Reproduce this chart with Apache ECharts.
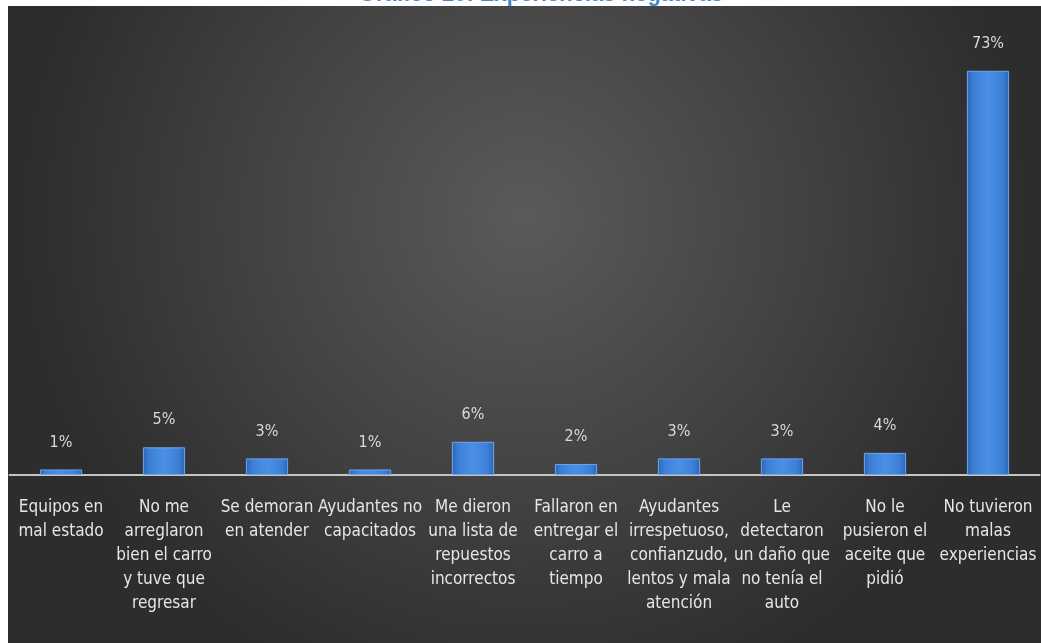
<!DOCTYPE html>
<html>
<head>
<meta charset="utf-8">
<script src="https://cdn.jsdelivr.net/npm/echarts@6/dist/echarts.min.js"></script>
<style>
  html, body { margin: 0; padding: 0; background: #ffffff; }
  #chart { width: 1041px; height: 643px; }
</style>
</head>
<body>
<div id="chart"></div>
<script>
// Categorías (con saltos de línea como en el gráfico original)
const categorias = [
  'Equipos en\nmal estado',
  'No me\narreglaron\nbien el carro\ny tuve que\nregresar',
  'Se demoran\nen atender',
  'Ayudantes no\ncapacitados',
  'Me dieron\nuna lista de\nrepuestos\nincorrectos',
  'Fallaron en\nentregar el\ncarro a\ntiempo',
  'Ayudantes\nirrespetuoso,\nconfianzudo,\nlentos y mala\natención',
  'Le\ndetectaron\nun daño que\nno tenía el\nauto',
  'No le\npusieron el\naceite que\npidió',
  'No tuvieron\nmalas\nexperiencias'
]
// Porcentajes
const valores = [1, 5, 3, 1, 6, 2, 3, 3, 4, 73]

const titulo = 'Gráfico 20: Experiencias negativas'
const fuente = '"Liberation Sans Narrow", "DejaVu Sans Condensed", sans-serif'

const chart = echarts.init(document.getElementById('chart'), null, { renderer: 'canvas' })

chart.setOption({
  backgroundColor: '#ffffff',
  animation: false,
  // título recortado por el panel oscuro (el texto va primero, el panel encima)
  graphic: [
    {
      type: 'text',
      z: 0,
      silent: true,
      style: {
        text: titulo,
        x: 541,
        y: -5,
        textAlign: 'center',
        textVerticalAlign: 'middle',
        fill: '#4a86c8',
        fontSize: 22,
        fontWeight: 'bold',
        fontFamily: 'Liberation Sans, Arial, sans-serif'
      }
    },
    {
      type: 'rect',
      z: 1,
      silent: true,
      shape: { x: 8, y: 6, width: 1033, height: 637 },
      style: {
        fill: {
          type: 'radial', x: 0.5, y: 0.33, r: 0.78,
          colorStops: [
            { offset: 0, color: '#5a5a5a' },
            { offset: 0.55, color: '#424242' },
            { offset: 1, color: '#2d2d2d' }
          ]
        }
      }
    }
  ],
  grid: { left: 9.5, right: 1.5, top: 32, bottom: 168, containLabel: false },
  xAxis: {
    type: 'category',
    data: categorias,
    z: 5,
    axisLine: { lineStyle: { color: '#c4c4c4', width: 2 } },
    axisTick: { show: false },
    axisLabel: {
      interval: 0,
      margin: 21,
      color: '#e6e6e6',
      fontSize: 17,
      lineHeight: 24,
      fontFamily: fuente
    }
  },
  yAxis: {
    type: 'value',
    min: 0,
    max: 80,
    show: false,
    splitLine: { show: false }
  },
  series: [{
    type: 'bar',
    data: valores,
    z: 6,
    barWidth: '41%',
    itemStyle: {
      color: {
        type: 'linear', x: 0, y: 0, x2: 1, y2: 0,
        colorStops: [
          { offset: 0, color: '#2b64b3' },
          { offset: 0.15, color: '#3d7fd6' },
          { offset: 0.5, color: '#4a8fe6' },
          { offset: 0.85, color: '#3d7fd6' },
          { offset: 1, color: '#2b64b3' }
        ]
      },
      borderColor: '#6fa6ec',
      borderWidth: 1
    },
    label: {
      show: true,
      position: 'top',
      distance: 19,
      formatter: '{c}%',
      color: '#d9d9d9',
      fontSize: 16,
      fontFamily: fuente
    }
  }]
})
</script>
</body>
</html>
